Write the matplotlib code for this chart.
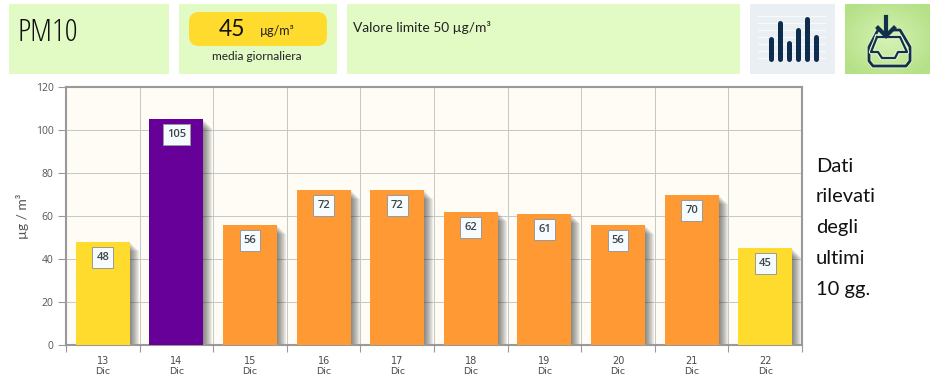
import matplotlib
matplotlib.use("Agg")
import numpy as np
import matplotlib.pyplot as plt
from matplotlib.patches import Rectangle, FancyBboxPatch
from matplotlib.path import Path
from matplotlib.colors import LinearSegmentedColormap
import matplotlib.patheffects as pe
from matplotlib.transforms import offset_copy

W, H = 931, 388
days = ["13", "14", "15", "16", "17", "18", "19", "20", "21", "22"]
month = "Dic"
values = [48, 105, 56, 72, 72, 62, 61, 56, 70, 45]
colors = ["#FFDB2E", "#660099", "#FF9933", "#FF9933", "#FF9933",
          "#FF9933", "#FF9933", "#FF9933", "#FF9933", "#FFDB2E"]
yticks = [0, 20, 40, 60, 80, 100, 120]
icon_heights = [23, 39, 19, 32, 43, 25]

plt.rcParams["font.family"] = ["Open Sans", "DejaVu Sans"]
NARROW = dict(stretch="condensed")
BODY = dict(family=["Lato", "DejaVu Sans"])

fig = plt.figure(figsize=(W / 100, H / 100), dpi=100, facecolor="white")

bg = fig.add_axes([0, 0, 1, 1])
bg.axis("off")

PANEL = "#E2FAC4"
for x0, x1 in [(9, 169), (179, 337), (347, 740)]:
    bg.add_patch(Rectangle((x0, 4), x1 - x0, 70, fc=PANEL, ec="none"))
bg.add_patch(Rectangle((750, 4), 85, 70, fc="#E9EFF2", ec="none"))

# soft green button
yy, xx = np.mgrid[-1:1:70j, -1:1:85j]
glow = np.clip(np.hypot(xx, yy) / 1.25, 0, 1)
cmap = LinearSegmentedColormap.from_list("btn", ["#D6F2B4", "#B4E086"])
bg.imshow(glow, extent=(845, 930, 74, 4), cmap=cmap, vmin=0, vmax=1, aspect="auto", zorder=1)
bg.set_xlim(0, W)
bg.set_ylim(H, 0)

bg.add_patch(FancyBboxPatch((189, 12), 138, 34, boxstyle="round,pad=0,rounding_size=10",
                            fc="#FFDB2E", ec="none"))

bg.text(18, 33, "PM10", fontsize=23, va="center", ha="left", color="#111111", **NARROW)
bg.text(232, 29, "45", fontsize=16.5, va="center", ha="center", color="#111111", **BODY)
bg.text(277, 31, "µg/m³", fontsize=9, va="center", ha="center", color="#222222", **BODY)
bg.text(257, 56, "media giornaliera", fontsize=8.6, va="center", ha="center", color="#222222", **BODY)
bg.text(353, 27, "Valore limite 50 µg/m³", fontsize=9.9, va="center", ha="left", color="#222222", **BODY)

# chart icon
for gy in [16, 23, 30, 37, 44, 51, 58]:
    bg.plot([758, 825], [gy, gy], color="#F7F9FA", lw=1, zorder=2)
for i, h in enumerate(icon_heights):
    x = 770.5 + i * 9
    bg.plot([x, x], [58.5, 60 - h + 2], color="#0E2D4E", lw=3.6, solid_capstyle="round", zorder=3)

# inbox icon
IC = "#123049"
halo = [pe.withStroke(linewidth=3.2, foreground="#E4F6CE")]
bg.plot([880, 878, 869, 869, 873, 906, 910, 910, 900, 893],
        [30, 30, 47, 61, 66, 66, 61, 47, 30, 30], color=IC, lw=2.0, zorder=3,
        solid_joinstyle="round", path_effects=halo)
bg.plot([877, 871, 878, 882, 895, 898, 907, 900, 877],
        [37, 52, 52, 58, 58, 52, 52, 37, 37], color=IC, lw=1.6, zorder=3,
        solid_joinstyle="round", path_effects=halo)
bg.plot([886, 886], [17, 35], color=IC, lw=3, zorder=4)
bg.plot([878, 886, 894], [28, 36, 28], color=IC, lw=3, zorder=4, solid_joinstyle="miter")

# chart
L, R, T, B = 66, 802, 87, 345
ax = fig.add_axes([L / W, 1 - B / H, (R - L) / W, (B - T) / H])
ax.set_facecolor("#FFFCF6")
ax.set_xlim(-0.5, 9.5)
ax.set_ylim(0, 120)
ax.set_axisbelow(True)
ax.grid(True, color="#C9C9C4", lw=0.75)
ax.set_xticks([i - 0.5 for i in range(11)])
ax.set_xticklabels([])
ax.set_yticks(yticks)
ax.tick_params(axis="y", length=6, color="#999999", width=0.8, labelsize=7.5, labelcolor="#555555", pad=3)
ax.tick_params(axis="x", length=5, color="#999999", width=0.8)
for s in ax.spines.values():
    s.set_color("#999999")
    s.set_linewidth(1.5)

xs = list(range(10))
bars = ax.bar(xs, values, width=54 / 73.6, color=colors, zorder=3, linewidth=0, align="center")
for dpx in range(1, 10):
    for b in bars:
        tr = offset_copy(ax.transData, fig=fig, x=dpx * 0.72, y=-dpx * 0.72, units="points")
        ax.add_patch(Rectangle((b.get_x(), b.get_y()), b.get_width(), b.get_height(),
                               fc="#222222", ec="none", alpha=0.075, transform=tr, zorder=2))


def tag(x0, y0, width, height, mutation_size):
    pad_x, pad_y = 4.0, 10.5
    cx, cy = x0 + width / 2, y0 + height / 2
    hw, hh = width / 2 + pad_x, pad_y
    return Path([(cx - hw, cy - hh), (cx + hw, cy - hh), (cx + hw, cy + hh), (cx - hw, cy + hh), (cx - hw, cy - hh)],
                closed=True)


for x, v in zip(xs, values):
    ax.annotate(str(v), (x, v), xytext=(0, -11.2), textcoords="offset points",
                ha="center", va="center", fontsize=8, color="#3A454A", zorder=5, stretch="condensed",
                fontweight=600,
                bbox=dict(boxstyle=tag, fc="#F6FBFD", ec="#9A9A9A", lw=0.7))
    ax.text(x, -7.4, days[int(x)], ha="center", va="center", fontsize=7, color="#4A4A4A",
            family=["DejaVu Sans"], clip_on=False)
    ax.text(x, -12.5, month, ha="center", va="center", fontsize=6.8, color="#4A4A4A",
            family=["DejaVu Sans"], clip_on=False)

ax.set_ylabel("µg / m³", fontsize=10, color="#555555", labelpad=5, **BODY)

# side note
for y, line in zip([166, 197, 228, 259, 290], ["Dati", "rilevati", "degli", "ultimi", "10 gg."]):
    bg.text(816, y, line, fontsize=14.5, va="center", ha="left", color="#111111", **BODY)

fig.savefig("out.png", dpi=100)
